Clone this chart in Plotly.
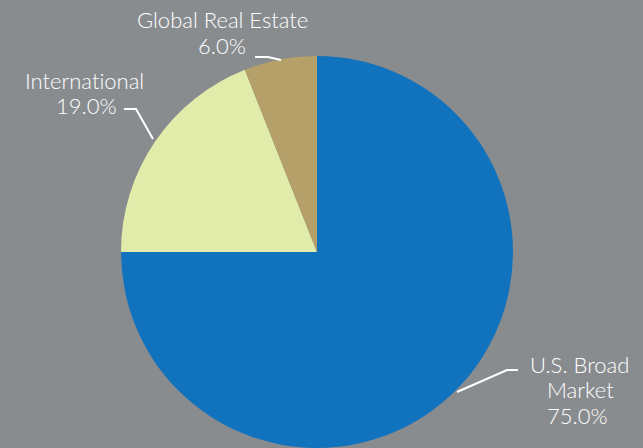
import plotly.graph_objects as go

categories = ["U.S. Broad Market", "International", "Global Real Estate"]
values = [75.0, 19.0, 6.0]
# label lines per slice (name lines, then percentage)
label_lines = [["U.S. Broad", "Market", "75.0%"], ["International", "19.0%"], ["Global Real Estate", "6.0%"]]
colors = ["#1172be", "#e1ebaa", "#b5a06a"]

W, H = 643, 448
BG = "#898c8f"

def px(x, y):
    return x / W, 1 - y / H

fig = go.Figure(go.Pie(
    labels=categories,
    values=values,
    sort=False,
    direction="clockwise",
    rotation=0,
    marker=dict(colors=colors, line=dict(width=0)),
    textinfo="none",
    hoverinfo="label+percent",
    showlegend=False,
    domain=dict(x=[0.1882, 0.7978], y=[0.0, 0.875]),
))

font = dict(family="Lato, 'Open Sans', sans-serif", size=22, color="white", weight=300)
line_pos = [
    [(579, 363), (580, 388), (577, 414)],
    [(85, 79), (86, 104)],
    [(222, 19), (222, 45)],
]
annotations = []
for lines, poss in zip(label_lines, line_pos):
    for txt, (x, y) in zip(lines, poss):
        ax, ay = px(x, y + 1)
        annotations.append(dict(x=ax, y=ay, xref="paper", yref="paper",
                                text='<span style="font-variant-ligatures:none">' + txt + '</span>',
                                showarrow=False, font=font, align="center",
                                xanchor="center", yanchor="middle"))

leaders = [
    [(518, 370), (507, 370), (457, 392)],
    [(124, 109), (136, 109), (153, 139)],
    [(255, 57), (268, 57), (281, 60)],
]
shapes = []
for pts in leaders:
    path = ""
    for i, (x, y) in enumerate(pts):
        X, Y = px(x, y)
        path += ("M" if i == 0 else " L") + f" {X:.5f} {Y:.5f}"
    shapes.append(dict(type="path", xref="paper", yref="paper", path=path,
                       line=dict(color="white", width=2)))

fig.update_layout(
    width=W, height=H,
    margin=dict(l=0, r=0, t=0, b=0),
    paper_bgcolor=BG, plot_bgcolor=BG,
    annotations=annotations,
    shapes=shapes,
)

fig.write_html("out.html", config={"displayModeBar": False},
               post_script="document.body.style.margin='0';document.body.style.overflow='hidden';")
